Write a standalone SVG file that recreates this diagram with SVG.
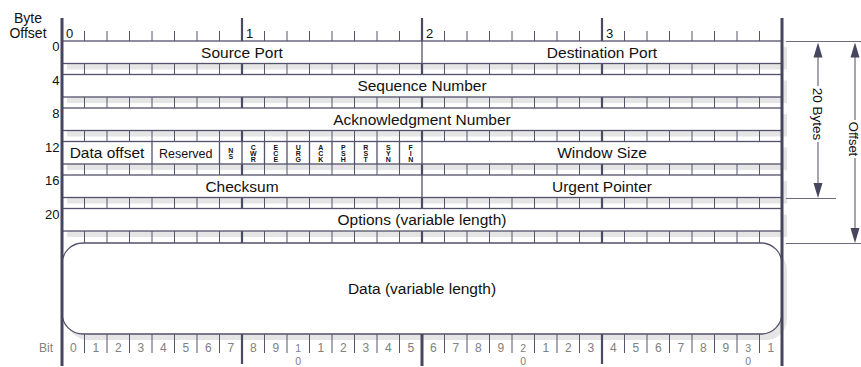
<svg xmlns="http://www.w3.org/2000/svg" xmlns:xlink="http://www.w3.org/1999/xlink" width="861" height="367" viewBox="0 0 861 367">
<style>
  .shadow{fill:#e5e5e5}
  .row{fill:#fff;stroke:#52526a;stroke-width:1.3}
  .div{stroke:#52526a;stroke-width:1.3;fill:none}
  .tick{stroke:#55556d;stroke-width:1;fill:none}
  .byte{stroke:#4a4a62;stroke-width:2.2;fill:none}
  .edge{stroke:#46465e;stroke-width:3;fill:none}
  .ann{stroke:#6a6a80;stroke-width:1.2;fill:none}
  .head{fill:#46465e}
  text{font-family:"Liberation Sans",Arial,Helvetica,sans-serif;fill:#111}
  .lbl{font-size:15.5px;text-anchor:middle}
  .num{font-size:13px;text-anchor:end}
  .hdr{font-size:13px}
  .cap{font-size:14px;text-anchor:middle}
  .bit{font-size:12px;text-anchor:middle;fill:#808080}
  .bit2{font-size:10.5px}
  .flag{font-size:7px;font-weight:bold;text-anchor:middle}
  .rot{font-size:13.5px;text-anchor:middle}
</style>
<defs>
  <g id="strip">
    <path class="tick" d="M84.5 -1v14m22.5 -14v14m22.5 -14v14m22.5 -14v14m22.5 -14v14m22.5 -14v14m22.5 -14v14m45 -14v14m22.5 -14v14m22.5 -14v14m22.5 -14v14m22.5 -14v14m22.5 -14v14m22.5 -14v14m45 -14v14m22.5 -14v14m22.5 -14v14m22.5 -14v14m22.5 -14v14m22.5 -14v14m22.5 -14v14m45 -14v14m22.5 -14v14m22.5 -14v14m22.5 -14v14m22.5 -14v14m22.5 -14v14m22.5 -14v14"/>
    <path class="byte" d="M242 -1v14M422 -1v14M602 -1v14"/>
  </g>
</defs>

<!-- shadows -->
<g id="shadows">
  <rect class="shadow" x="67" y="47" width="720" height="22.5"/>
  <rect class="shadow" x="67" y="80.5" width="720" height="22.5"/>
  <rect class="shadow" x="67" y="114" width="720" height="22.5"/>
  <rect class="shadow" x="67" y="147.5" width="720" height="22.5"/>
  <rect class="shadow" x="67" y="181" width="720" height="22.5"/>
  <rect class="shadow" x="67" y="214.5" width="720" height="22.5"/>
  <rect class="shadow" x="67" y="249" width="720" height="91" rx="21"/>
</g>

<!-- strips between rows -->
<g id="strips">
  <use xlink:href="#strip" transform="translate(0,63.5)"/>
  <use xlink:href="#strip" transform="translate(0,97)"/>
  <use xlink:href="#strip" transform="translate(0,130.5)"/>
  <use xlink:href="#strip" transform="translate(0,164)"/>
  <use xlink:href="#strip" transform="translate(0,197.5)"/>
  <use xlink:href="#strip" transform="translate(0,231)"/>
</g>

<!-- header -->
<g id="header">
  <text class="cap" x="28" y="23">Byte</text>
  <text class="cap" x="28" y="37.5">Offset</text>
  <path class="tick" d="M84.5 31v10m22.5 -10v10m22.5 -10v10m22.5 -10v10m22.5 -10v10m22.5 -10v10m22.5 -10v10m45 -10v10m22.5 -10v10m22.5 -10v10m22.5 -10v10m22.5 -10v10m22.5 -10v10m22.5 -10v10m45 -10v10m22.5 -10v10m22.5 -10v10m22.5 -10v10m22.5 -10v10m22.5 -10v10m22.5 -10v10m45 -10v10m22.5 -10v10m22.5 -10v10m22.5 -10v10m22.5 -10v10m22.5 -10v10m22.5 -10v10"/>
  <path class="byte" d="M242 18V41M422 18V41M602 18V41"/>
  <text class="hdr" x="66" y="38">0</text>
  <text class="hdr" x="246" y="38">1</text>
  <text class="hdr" x="426" y="38">2</text>
  <text class="hdr" x="606" y="38">3</text>
  <text class="num" x="59.5" y="51">0</text>
  <text class="num" x="59.5" y="84.5">4</text>
  <text class="num" x="59.5" y="118">8</text>
  <text class="num" x="59.5" y="151.5">12</text>
  <text class="num" x="59.5" y="185">16</text>
  <text class="num" x="59.5" y="218.5">20</text>
</g>

<!-- row 0 -->
<g id="row0">
  <rect class="row" x="62" y="41" width="720" height="22.5"/>
  <path class="div" d="M422 41v22.5"/>
  <text class="lbl" x="242" y="57.8">Source Port</text>
  <text class="lbl" x="602" y="57.8">Destination Port</text>
</g>

<g id="row4">
  <rect class="row" x="62" y="74.5" width="720" height="22.5"/>
  <text class="lbl" x="422" y="91.3">Sequence Number</text>
</g>

<g id="row8">
  <rect class="row" x="62" y="108" width="720" height="22.5"/>
  <text class="lbl" x="422" y="124.8">Acknowledgment Number</text>
</g>

<g id="row12">
  <rect class="row" x="62" y="141.5" width="720" height="22.5"/>
  <path class="div" d="M152 141.5v22.5M219.5 141.5v22.5M242 141.5v22.5M264.5 141.5v22.5M287 141.5v22.5M309.5 141.5v22.5M332 141.5v22.5M354.5 141.5v22.5M377 141.5v22.5M399.5 141.5v22.5M422 141.5v22.5"/>
  <text class="lbl" x="107" y="158.3">Data offset</text>
  <text class="lbl" x="185.75" y="157.6" style="font-size:12.5px">Reserved</text>
  <text class="flag" x="230.75" y="152.5">N<tspan x="230.75" dy="6">S</tspan></text>
  <text class="flag" x="253.25" y="149.5">C<tspan x="253.25" dy="6">W</tspan><tspan x="253.25" dy="6">R</tspan></text>
  <text class="flag" x="275.75" y="149.5">E<tspan x="275.75" dy="6">C</tspan><tspan x="275.75" dy="6">E</tspan></text>
  <text class="flag" x="298.25" y="149.5">U<tspan x="298.25" dy="6">R</tspan><tspan x="298.25" dy="6">G</tspan></text>
  <text class="flag" x="320.75" y="149.5">A<tspan x="320.75" dy="6">C</tspan><tspan x="320.75" dy="6">K</tspan></text>
  <text class="flag" x="343.25" y="149.5">P<tspan x="343.25" dy="6">S</tspan><tspan x="343.25" dy="6">H</tspan></text>
  <text class="flag" x="365.75" y="149.5">R<tspan x="365.75" dy="6">S</tspan><tspan x="365.75" dy="6">T</tspan></text>
  <text class="flag" x="388.25" y="149.5">S<tspan x="388.25" dy="6">Y</tspan><tspan x="388.25" dy="6">N</tspan></text>
  <text class="flag" x="410.75" y="149.5">F<tspan x="410.75" dy="6">I</tspan><tspan x="410.75" dy="6">N</tspan></text>
  <text class="lbl" x="602" y="158.3">Window Size</text>
</g>

<g id="row16">
  <rect class="row" x="62" y="175" width="720" height="22.5"/>
  <path class="div" d="M422 175v22.5"/>
  <text class="lbl" x="242" y="191.8">Checksum</text>
  <text class="lbl" x="602" y="191.8">Urgent Pointer</text>
</g>

<g id="row20">
  <rect class="row" x="62" y="208.5" width="720" height="22.5"/>
  <text class="lbl" x="422" y="225.3">Options (variable length)</text>
</g>

<g id="data">
  <rect class="row" x="62" y="243" width="720" height="91" rx="21"/>
  <text class="lbl" x="422" y="294">Data (variable length)</text>
</g>

<!-- bottom bit ruler -->
<g id="bits">
  <path class="tick" d="M84.5 334v19m22.5 -19v19m22.5 -19v19m22.5 -19v19m22.5 -19v19m22.5 -19v19m22.5 -19v19m45 -19v19m22.5 -19v19m22.5 -19v19m22.5 -19v19m22.5 -19v19m22.5 -19v19m22.5 -19v19m45 -19v19m22.5 -19v19m22.5 -19v19m22.5 -19v19m22.5 -19v19m22.5 -19v19m22.5 -19v19m45 -19v19m22.5 -19v19m22.5 -19v19m22.5 -19v19m22.5 -19v19m22.5 -19v19m22.5 -19v19"/>
  <path class="byte" d="M242 334V364M602 334V364"/>
  <path class="edge" d="M422 334V366"/>
  <text class="bit" x="46" y="352">Bit</text>
  <text class="bit" x="73.25" y="352">0</text>
  <text class="bit" x="95.75" y="352">1</text>
  <text class="bit" x="118.25" y="352">2</text>
  <text class="bit" x="140.75" y="352">3</text>
  <text class="bit" x="163.25" y="352">4</text>
  <text class="bit" x="185.75" y="352">5</text>
  <text class="bit" x="208.25" y="352">6</text>
  <text class="bit" x="230.75" y="352">7</text>
  <text class="bit" x="253.25" y="352">8</text>
  <text class="bit" x="275.75" y="352">9</text>
  <text class="bit bit2" x="298.25" y="352">1<tspan x="298.25" dy="12.5">0</tspan></text>
  <text class="bit" x="320.75" y="352">1</text>
  <text class="bit" x="343.25" y="352">2</text>
  <text class="bit" x="365.75" y="352">3</text>
  <text class="bit" x="388.25" y="352">4</text>
  <text class="bit" x="410.75" y="352">5</text>
  <text class="bit" x="433.25" y="352">6</text>
  <text class="bit" x="455.75" y="352">7</text>
  <text class="bit" x="478.25" y="352">8</text>
  <text class="bit" x="500.75" y="352">9</text>
  <text class="bit bit2" x="523.25" y="352">2<tspan x="523.25" dy="12.5">0</tspan></text>
  <text class="bit" x="545.75" y="352">1</text>
  <text class="bit" x="568.25" y="352">2</text>
  <text class="bit" x="590.75" y="352">3</text>
  <text class="bit" x="613.25" y="352">4</text>
  <text class="bit" x="635.75" y="352">5</text>
  <text class="bit" x="658.25" y="352">6</text>
  <text class="bit" x="680.75" y="352">7</text>
  <text class="bit" x="703.25" y="352">8</text>
  <text class="bit" x="725.75" y="352">9</text>
  <text class="bit bit2" x="748.25" y="352">3<tspan x="748.25" dy="12.5">0</tspan></text>
  <text class="bit" x="770.75" y="352">1</text>
</g>

<!-- frame edges -->
<g id="frame">
  <path class="edge" d="M62 18V366M782 18V366"/>
</g>

<!-- dimension connectors -->
<g id="connectors">
  <path class="ann" d="M786 41.5H861M786 198.5H836M786 243.5H861"/>
  <path class="ann" d="M818 57V86M818 142V184"/>
  <polygon class="head" points="818,42.5 813.5,57.5 822.5,57.5"/>
  <polygon class="head" points="818,198 813.5,183 822.5,183"/>
  <text class="rot" transform="translate(813,114) rotate(90)">20 Bytes</text>
  <path class="ann" d="M855 57V120M855 158V229"/>
  <polygon class="head" points="855,42.5 850.5,57.5 859.5,57.5"/>
  <polygon class="head" points="855,243 850.5,228 859.5,228"/>
  <text class="rot" style="font-size:13px" transform="translate(849,139) rotate(90)">Offset</text>
</g>
</svg>
